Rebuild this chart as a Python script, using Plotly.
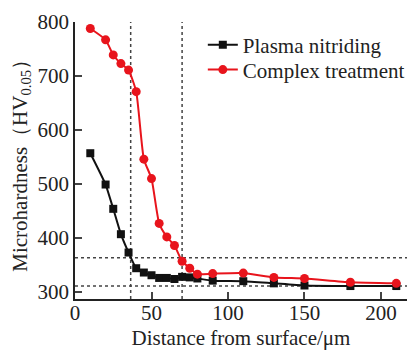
import plotly.graph_objects as go

distance = [10, 20, 25, 30, 35, 40, 45, 50, 55, 60, 65, 70, 75, 80, 90, 110, 130, 150, 180, 210]
plasma_nitriding = [557, 499, 454, 407, 373, 344, 336, 331, 326, 326, 324, 328, 327, 325, 321, 320, 316, 312, 311, 311]
complex_treatment = [788, 767, 739, 723, 711, 671, 546, 510, 427, 402, 386, 357, 344, 333, 334, 335, 327, 325, 318, 316]
ref_x = [36.4, 70]
ref_y = [311, 363.5]
x_ticks = [0, 50, 100, 150, 200]
y_ticks = [300, 400, 500, 600, 700, 800]

FONT = "Liberation Serif"
TXT = "#222222"

fig = go.Figure()
fig.add_trace(go.Scatter(
    x=distance, y=plasma_nitriding, name="Plasma nitriding", legend="legend",
    mode="lines+markers", line=dict(color="#111111", width=2, shape="spline", smoothing=0.5),
    marker=dict(symbol="square", size=8, color="#111111")))
fig.add_trace(go.Scatter(
    x=distance, y=complex_treatment, name="Complex treatment", legend="legend2",
    mode="lines+markers", line=dict(color="#e8141c", width=2, shape="spline", smoothing=0.5),
    marker=dict(symbol="circle", size=9, color="#e8141c")))

for xv in ref_x:
    fig.add_shape(type="line", xref="x", yref="paper", x0=xv, x1=xv, y0=0, y1=1,
                  line=dict(color="#444444", width=1.5, dash="3px,3px"), layer="below")
for yv in ref_y:
    fig.add_shape(type="line", xref="paper", yref="y", x0=0, x1=1, y0=yv, y1=yv,
                  line=dict(color="#444444", width=1.5, dash="3px,3px"), layer="below")

fig.add_annotation(text="Microhardness（HV<sub>0.05</sub>）", xref="paper", yref="paper",
                   x=-0.165, y=0.5, xanchor="center", yanchor="middle", textangle=-90,
                   showarrow=False, font=dict(family=FONT, size=21, color=TXT))

legend_common = dict(xanchor="left", yanchor="middle", bgcolor="rgba(0,0,0,0)",
                     font=dict(family=FONT, size=21, color=TXT), itemwidth=30)

fig.update_layout(
    width=410, height=350,
    margin=dict(l=75, r=0, t=22, b=51),
    paper_bgcolor="white", plot_bgcolor="white",
    font=dict(family=FONT, size=21, color=TXT),
    showlegend=True,
    legend=dict(x=0.385, y=0.917, **legend_common),
    legend2=dict(x=0.385, y=0.827, **legend_common),
    xaxis=dict(range=[0, 217], tickvals=x_ticks, ticks="inside", ticklen=7, tickwidth=1.5,
               showline=True, linecolor=TXT, linewidth=1.5, showgrid=False, zeroline=False,
               ticklabelstandoff=-6,
               title=dict(text="Distance from surface/μm", standoff=10,
                          font=dict(family=FONT, size=21, color=TXT)),
               tickfont=dict(size=21)),
    yaxis=dict(range=[287, 800], tickvals=y_ticks, ticks="inside", ticklen=7, tickwidth=1.5,
               showline=True, linecolor=TXT, linewidth=1.5, showgrid=False, zeroline=False,
               tickfont=dict(size=21)),
)

fig.write_html("out.html")
